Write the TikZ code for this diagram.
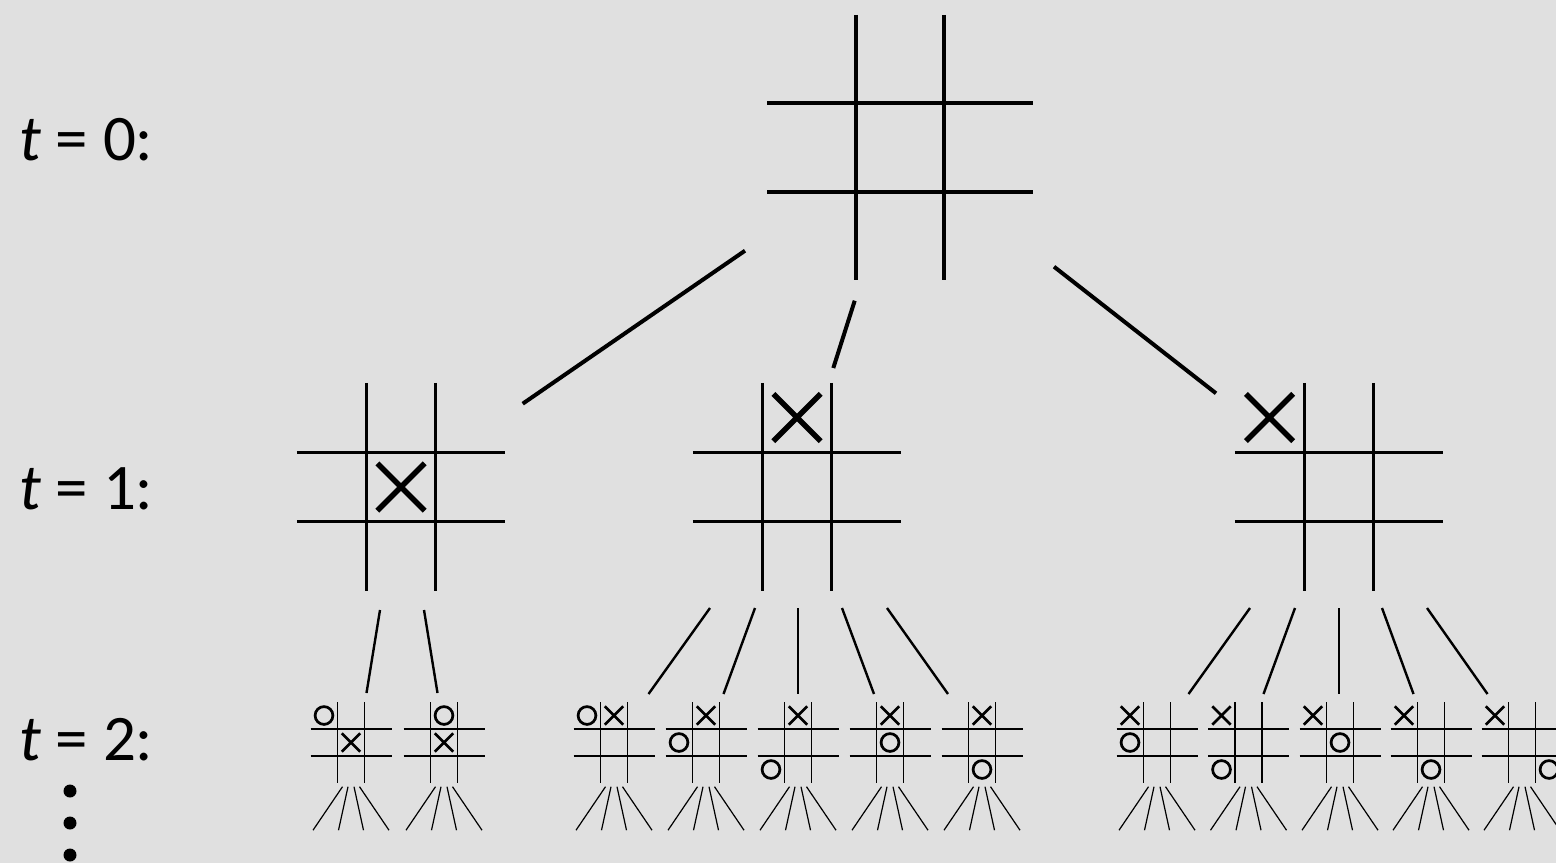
\documentclass[tikz,border=0pt]{standalone}
\usepackage{fontspec}
\setmainfont{Carlito}
\definecolor{paper}{RGB}{224,224,224}
\tikzset{
  % 3x3 grid, one unit = one cell
  grid/.pic={
    \draw[pic actions] (-0.5,-1.5) -- (-0.5,1.5) (0.5,-1.5) -- (0.5,1.5)
                       (-1.5,-0.5) -- (1.5,-0.5) (-1.5,0.5) -- (1.5,0.5);
  },
  xmark/.pic={
    \draw[pic actions] (-0.34,-0.34) -- (0.34,0.34) (-0.34,0.34) -- (0.34,-0.34);
  },
  omark/.pic={
    \draw[pic actions] (0,0) circle[radius=0.33];
  },
  % four thin branches under a small board
  fan/.pic={
    \draw[pic actions] (-8.5,0) -- (-38,43.5) (-3,0) -- (-12.5,43.5)
                       (3,0) -- (12.5,43.5) (8.5,0) -- (38,43.5);
  },
  bigboard/.style={line width=2pt},
  midboard/.style={line width=1.5pt},
  bigx/.style={line width=2.8pt},
  smallboard/.style={line width=0.95pt},
  smallmark/.style={line width=1.35pt},
  fanline/.style={line width=0.6pt},
  edgetop/.style={line width=2pt},
  edgemid/.style={line width=1.2pt},
  lab/.style={anchor=base west, inner sep=0pt, font=\fontsize{32.5}{39}\selectfont},
}
% small board: centre x, then cell offsets of X and O
\newcommand{\smallpos}[5]{%
  \pic[smallboard, scale=27] at (#1,742.5) {grid};
  \pic[smallmark, scale=27] at ({#1+27*(#2)},{742.5+27*(#3)}) {xmark};
  \pic[smallmark, scale=27] at ({#1+27*(#4)},{742.5+27*(#5)}) {omark};
  \pic[fanline] at (#1,786.7) {fan};
}
\begin{document}
\begin{tikzpicture}[x=0.5pt,y=-0.5pt]
\fill[paper] (0,0) rectangle (1556,863);
\useasboundingbox (0,0) rectangle (1556,863);
\clip (0,0) rectangle (1556,863);

% level labels
\node[lab] (l0) at (19,160) {\textit{t} = 0:};
\node[lab] (l1) at (19,509) {\textit{t} = 1:};
\node[lab] (l2) at (19,760) {\textit{t} = 2:};
\foreach \yy [count=\i] in {791,823,855}
  \fill (70,\yy) circle[radius=6.5] coordinate (dot\i);

% root
\pic[bigboard, scale=88.5] at (900,147.5) {grid};

% first move
\pic[midboard, scale=69.5] at (401,487) {grid};
\pic[bigx, scale=69.5] at (401,487) {xmark};
\pic[midboard, scale=69.5] at (797,487) {grid};
\pic[bigx, scale=69.5] at (797,417.5) {xmark};
\pic[midboard, scale=69.5] at (1339,487) {grid};
\pic[bigx, scale=69.5] at (1269.5,417.5) {xmark};

% edges from the root
\coordinate (r1) at (745,250.7);   \coordinate (a1) at (522.7,403.7);
\coordinate (r2) at (854.7,300.7); \coordinate (a2) at (833.3,368);
\coordinate (r3) at (1054,266.7);  \coordinate (a3) at (1216,393.3);
\draw[edgetop] (r1) -- (a1) (r2) -- (a2) (r3) -- (a3);

% edges to the second move
\coordinate (p1) at (380,610);  \coordinate (c1) at (366.5,693);
\coordinate (p2) at (424,610);  \coordinate (c2) at (437.5,693);
\draw[edgemid] (p1) -- (c1) (p2) -- (c2);
\foreach \tx/\bx [count=\i] in {710/648.5, 755/723.5, 798/798, 842/874, 887/948}{
  \coordinate (q\i) at (\tx,608); \coordinate (d\i) at (\bx,694);
  \draw[edgemid] (q\i) -- (d\i);
}
\foreach \tx/\bx [count=\i] in {1250/1188.5, 1295/1263.5, 1339/1339, 1382/1413.5, 1427/1487.5}{
  \coordinate (s\i) at (\tx,608); \coordinate (e\i) at (\bx,694);
  \draw[edgemid] (s\i) -- (e\i);
}

% second move boards
\smallpos{351}{0}{0}{-1}{-1}
\smallpos{444}{0}{0}{0}{-1}

\smallpos{614}{0}{-1}{-1}{-1}
\smallpos{706}{0}{-1}{-1}{0}
\smallpos{798}{0}{-1}{-1}{1}
\smallpos{890}{0}{-1}{0}{0}
\smallpos{982}{0}{-1}{0}{1}

\smallpos{1157}{-1}{-1}{-1}{0}
\smallpos{1248.5}{-1}{-1}{-1}{1}
\smallpos{1340}{-1}{-1}{0}{0}
\smallpos{1431}{-1}{-1}{0}{1}
\smallpos{1522}{-1}{-1}{1}{1}
\end{tikzpicture}
\end{document}
